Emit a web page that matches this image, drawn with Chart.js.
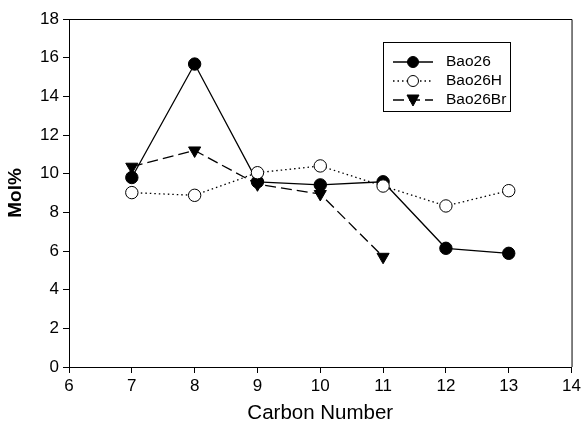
<!DOCTYPE html>
<html>
<head>
<meta charset="utf-8">
<script src="https://cdn.jsdelivr.net/npm/chart.js@4/dist/chart.umd.min.js"></script>
<style>
html,body{margin:0;padding:0;background:#fff;}
#wrap{width:584px;height:427px;}
</style>
</head>
<body>
<div id="wrap"><canvas id="c" width="584" height="427"></canvas></div>
<script>
const carbonNumbers = [7, 8, 9, 10, 11, 12, 13];
const bao26 = [9.8, 15.67, 9.58, 9.42, 9.58, 6.14, 5.88];
const bao26H = [9.02, 8.88, 10.05, 10.4, 9.36, 8.33, 9.12];
const bao26BrX = [7, 8, 9, 10, 11];
const bao26Br = [10.36, 11.2, 9.45, 8.95, 5.7];
const xTicks = [6, 7, 8, 9, 10, 11, 12, 13, 14];
const yTicks = [0, 2, 4, 6, 8, 10, 12, 14, 16, 18];
const seriesNames = ['Bao26', 'Bao26H', 'Bao26Br'];

const toPts = (xs, ys) => xs.map((x, i) => ({x: x, y: ys[i]}));
const FONT = "'Liberation Sans', Arial, Helvetica, sans-serif";

const dsStyles = [
  {borderDash: [], pointStyle: 'circle', bg: '#000', rot: 0, r: 6.2},
  {borderDash: [1.5, 3], pointStyle: 'circle', bg: '#fff', rot: 0, r: 6.2},
  {borderDash: [11, 5], pointStyle: 'triangle', bg: '#000', rot: 180, r: 7}
];

const frameLegend = {
  id: 'frameLegend',
  afterDraw(chart) {
    const ctx = chart.ctx;
    const a = chart.chartArea;
    ctx.save();
    ctx.strokeStyle = '#000';
    ctx.lineWidth = 1;
    ctx.beginPath();
    ctx.moveTo(a.left, a.top + 0.5);
    ctx.lineTo(a.right + 0.5, a.top + 0.5);
    ctx.lineTo(a.right + 0.5, a.bottom);
    ctx.stroke();
    // legend box
    ctx.strokeRect(383.5, 42.5, 127, 69);
    const rows = [62, 81, 100];
    for (let i = 0; i < 3; i++) {
      const s = dsStyles[i];
      const y = rows[i];
      ctx.setLineDash(s.borderDash);
      ctx.lineWidth = 1.3;
      ctx.beginPath();
      ctx.moveTo(393, y);
      ctx.lineTo(433, y);
      ctx.stroke();
      ctx.setLineDash([]);
      ctx.fillStyle = s.bg;
      ctx.strokeStyle = '#000';
      ctx.lineWidth = 1;
      if (s.pointStyle === 'circle') {
        ctx.beginPath();
        ctx.arc(413, y, 5.5, 0, Math.PI * 2);
        ctx.fill();
        ctx.stroke();
      } else {
        ctx.beginPath();
        ctx.moveTo(407, y - 5);
        ctx.lineTo(419, y - 5);
        ctx.lineTo(413, y + 6);
        ctx.closePath();
        ctx.fill();
        ctx.stroke();
      }
      ctx.fillStyle = '#000';
      ctx.font = '15.5px ' + FONT;
      ctx.textBaseline = 'middle';
      ctx.textAlign = 'left';
      ctx.fillText(seriesNames[i], 446, y);
    }
    ctx.restore();
  }
};

new Chart(document.getElementById('c'), {
  type: 'scatter',
  data: {
    datasets: [
      {label: seriesNames[0], data: toPts(carbonNumbers, bao26), order: 2},
      {label: seriesNames[1], data: toPts(carbonNumbers, bao26H), order: 0},
      {label: seriesNames[2], data: toPts(bao26BrX, bao26Br), order: 1}
    ].map((d, i) => Object.assign(d, {
      showLine: true,
      borderColor: '#000',
      borderWidth: 1.3,
      borderDash: dsStyles[i].borderDash,
      pointStyle: dsStyles[i].pointStyle,
      pointRotation: dsStyles[i].rot,
      pointRadius: dsStyles[i].r,
      pointHoverRadius: dsStyles[i].r,
      pointBackgroundColor: dsStyles[i].bg,
      pointBorderColor: '#000',
      pointBorderWidth: 1,
      tension: 0
    }))
  },
  options: {
    responsive: false,
    animation: false,
    devicePixelRatio: 1,
    layout: {padding: {top: 19, right: 12, left: 0, bottom: 0}},
    plugins: {legend: {display: false}, tooltip: {enabled: false}},
    scales: {
      x: {
        type: 'linear', min: 6, max: 14,
        afterBuildTicks: (s) => { s.ticks = xTicks.map(v => ({value: v})); },
        afterFit: (s) => { s.height = 60; },
        ticks: {color: '#000', font: {size: 17, family: FONT}, padding: 3, maxRotation: 0},
        grid: {drawOnChartArea: false, drawTicks: true, tickLength: 6, color: '#000'},
        border: {display: true, color: '#000', width: 1},
        title: {display: true, text: 'Carbon Number', color: '#000', font: {size: 20.5, family: FONT}, padding: {top: 4, bottom: 1}}
      },
      y: {
        type: 'linear', min: 0, max: 18,
        afterBuildTicks: (s) => { s.ticks = yTicks.map(v => ({value: v})); },
        afterFit: (s) => { s.width = 69; },
        ticks: {color: '#000', font: {size: 17, family: FONT}, padding: 4},
        grid: {drawOnChartArea: false, drawTicks: true, tickLength: 6, color: '#000'},
        border: {display: true, color: '#000', width: 1},
        title: {display: true, text: 'Mol%', color: '#000', font: {size: 19, weight: 'bold', family: FONT}, padding: {bottom: 2}}
      }
    }
  },
  plugins: [frameLegend]
});
</script>
</body>
</html>
